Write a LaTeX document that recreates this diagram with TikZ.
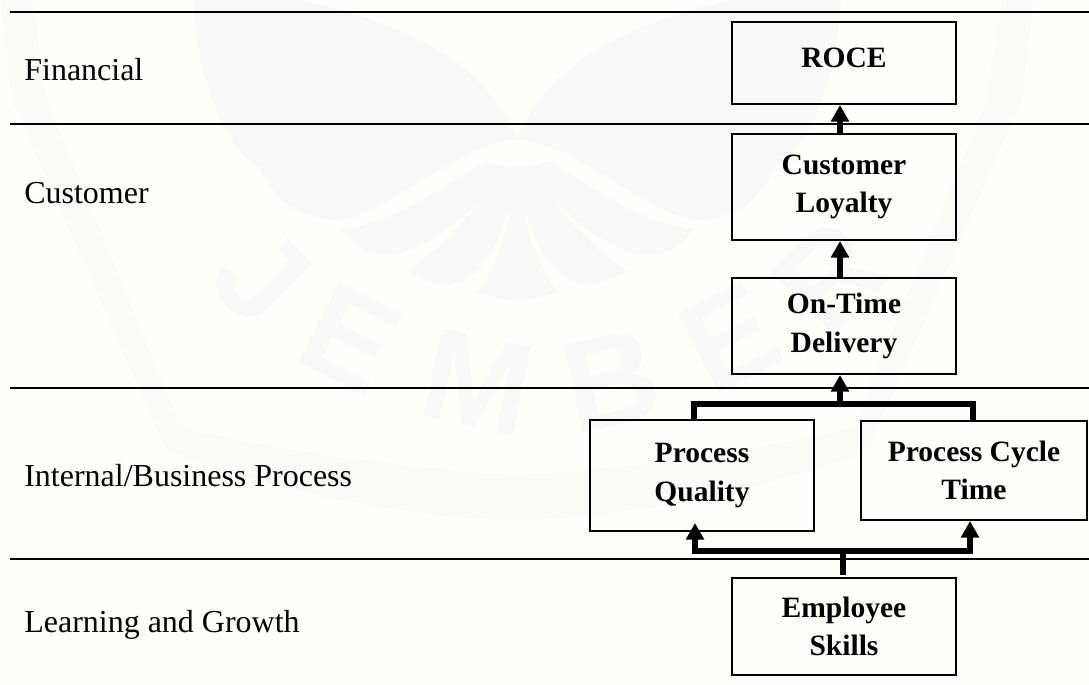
\documentclass[tikz,border=0pt]{standalone}
\usepackage{fontspec}
\setmainfont{Liberation Serif}
\setsansfont{Liberation Sans}
\usetikzlibrary{arrows.meta}
\definecolor{paper}{HTML}{FEFFFA}
\definecolor{wmgrey}{HTML}{F7F8F7}
\definecolor{wmband}{HTML}{FAFBF8}
\tikzset{
  kpibox/.style={draw,line width=0.9pt,align=center,font=\fontsize{16.8}{22}\selectfont\bfseries,inner sep=0pt},
  rowlabel/.style={anchor=west,inner sep=0pt,font=\fontsize{18.2}{22}\selectfont},
  rowline/.style={line width=1pt},
  link/.style={line width=3.2pt},
  linkup/.style={line width=3.2pt,-{Triangle[width=10pt,length=9.5pt]}},
  wmletter/.style={text=wmgrey,inner sep=0pt,font=\fontsize{74}{74}\selectfont\sffamily\bfseries}
}
\begin{document}
\begin{tikzpicture}[x=0.02cm,y=-0.02cm]
\useasboundingbox(0,0)rectangle(1089,684);
\fill[paper](0,0)rectangle(1089,684);
% faint mark behind the chart
\foreach \s in{1,-1}{
\begin{scope}[xshift=517*0.02cm,xscale=\s]
\fill[wmband](-517,0)--(-505,100)--(-351,450)..controls(-250,490)and(-100,520)..(0,520)--(0,475)..controls(-100,470)and(-250,450)..(-336,427)--(-470,100)--(-485,0)--cycle;
\fill[wmgrey](-324,0)..controls(-320,70)and(-300,140)..(-257,168)..controls(-240,210)and(-200,225)..(-165,217)..controls(-120,205)and(-50,140)..(0,140)--(-9,120)..controls(-40,60)and(-120,20)..(-217,0)--cycle;
\fill[wmgrey](0,167)..controls(-10,167)and(-20,166)..(-30,161)..controls(-60,175)and(-120,225)..(-177,229)..controls(-150,265)and(-110,270)..(-37,201)..controls(-60,230)and(-85,255)..(-110,271)..controls(-85,285)and(-65,290)..(-45,275)..controls(-30,265)and(-15,235)..(-7,207)..controls(-10,240)and(-25,270)..(-40,292)..controls(-20,300)and(0,300)..(0,300)--cycle;
\end{scope}}
\foreach \l/\x/\y/\r in{J/262/277/-45,E/350/338/-27,M/478/382/-12,B/611/381/12,E/730/338/27,R/830/277/45}
\node[wmletter,rotate=\r](wm\x)at(\x,\y){\l};
% perspective rows
\coordinate(r1a)at(10,12);\coordinate(r1b)at(1089,12);
\coordinate(r2a)at(10,124);\coordinate(r2b)at(1089,124);
\coordinate(r3a)at(10,388);\coordinate(r3b)at(1089,388);
\coordinate(r4a)at(10,559);\coordinate(r4b)at(1089,559);
\draw[rowline](r1a)--(r1b)(r2a)--(r2b)(r3a)--(r3b)(r4a)--(r4b);
\node[rowlabel](financial)at(24,70){Financial};
\node[rowlabel](customer)at(24,193){Customer};
\node[rowlabel](internal)at(24,476){Internal/Business Process};
\node[rowlabel](learning)at(24,625){Learning and Growth};
% boxes
\node[kpibox,minimum width=224*0.02cm,minimum height=82*0.02cm](roce)at(844,63){ROCE\\[-16pt]\mbox{}};
\node[kpibox,minimum width=224*0.02cm,minimum height=106*0.02cm](loyalty)at(844,187){Customer\\Loyalty};
\node[kpibox,minimum width=224*0.02cm,minimum height=96*0.02cm](delivery)at(844,326){On-Time\\Delivery};
\node[kpibox,minimum width=224*0.02cm,minimum height=111*0.02cm](quality)at(702,475.5){Process\\Quality};
\node[kpibox,minimum width=226*0.02cm,minimum height=99*0.02cm](cycle)at(974,470.5){Process Cycle\\Time};
\node[kpibox,minimum width=224*0.02cm,minimum height=97*0.02cm](skills)at(844,626.5){Employee\\Skills};
% links
\coordinate(busup)at(840,404);
\coordinate(busdown)at(843,551);
\draw[linkup](840,134)--(840,105);
\draw[linkup](840,278)--(840,241);
\draw[linkup](busup)--(840,375);
\draw[link](694,420)|-(973,404)--(973,422);
\draw[link](busdown)--(843,575);
\draw[linkup](busdown)-|(695,523);
\draw[linkup](busdown)-|(970,521);
\end{tikzpicture}
\end{document}
